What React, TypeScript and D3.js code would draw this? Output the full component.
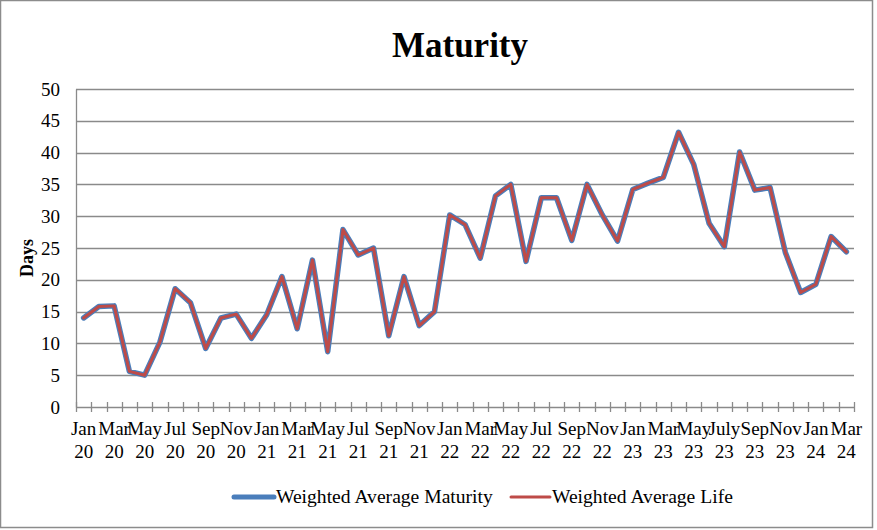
import React, { useEffect, useRef } from "react";
import * as d3 from "d3";

// monthly observations, Jan 2020 .. Mar 2024
const months = [
  "Jan 20", "Feb 20", "Mar 20", "Apr 20", "May 20", "Jun 20", "Jul 20", "Aug 20", "Sep 20", "Oct 20", "Nov 20", "Dec 20",
  "Jan 21", "Feb 21", "Mar 21", "Apr 21", "May 21", "Jun 21", "Jul 21", "Aug 21", "Sep 21", "Oct 21", "Nov 21", "Dec 21",
  "Jan 22", "Feb 22", "Mar 22", "Apr 22", "May 22", "Jun 22", "Jul 22", "Aug 22", "Sep 22", "Oct 22", "Nov 22", "Dec 22",
  "Jan 23", "Feb 23", "Mar 23", "Apr 23", "May 23", "Jun 23", "July 23", "Aug 23", "Sep 23", "Oct 23", "Nov 23", "Dec 23",
  "Jan 24", "Feb 24", "Mar 24",
];

const wam = [
  14.0, 15.8, 15.9, 5.6, 5.0, 10.2, 18.6, 16.4, 9.2, 14.0, 14.6, 10.8,
  14.5, 20.5, 12.3, 23.1, 8.7, 27.9, 23.9, 25.0, 11.2, 20.5, 12.8, 15.0,
  30.2, 28.7, 23.4, 33.2, 35.0, 22.9, 32.9, 32.9, 26.2, 35.0, 30.2, 26.1,
  34.2, 35.2, 36.1, 43.2, 38.1, 28.9, 25.2, 40.1, 34.1, 34.5, 24.3, 18.0,
  19.3, 26.8, 24.4,
];

const wal = [
  14.0, 15.8, 15.9, 5.6, 5.0, 10.2, 18.6, 16.4, 9.2, 14.0, 14.6, 10.8,
  14.5, 20.5, 12.3, 23.1, 8.7, 27.9, 23.9, 25.0, 11.2, 20.5, 12.8, 15.0,
  30.2, 28.7, 23.4, 33.2, 35.0, 22.9, 32.9, 32.9, 26.2, 35.0, 30.2, 26.1,
  34.2, 35.2, 36.1, 43.2, 38.1, 28.9, 25.2, 40.1, 34.1, 34.5, 24.3, 18.0,
  19.3, 26.8, 24.4,
];

const yTicks = [0, 5, 10, 15, 20, 25, 30, 35, 40, 45, 50];

const seriesNames = ["Weighted Average Maturity", "Weighted Average Life"];

const FONT = "'Liberation Serif', 'Times New Roman', serif";

const App = () => {
  const svgRef = useRef<SVGSVGElement>(null);

  useEffect(() => {
    const svg = d3.select(svgRef.current);
    svg.selectAll("*").remove();

    const left = 76, right = 854, top = 89, bottom = 407;

    const xScale = d3.scaleBand().domain(months).range([left, right]).padding(0);
    const yScale = d3.scaleLinear().domain([0, 50]).range([bottom, top]);
    const cx = (m) => xScale(m) + xScale.bandwidth() / 2;

    // outer border
    svg
      .append("rect")
      .attr("x", 0.5)
      .attr("y", 0.5)
      .attr("width", 872)
      .attr("height", 527)
      .attr("fill", "white")
      .attr("stroke", "#8c8c8c")
      .attr("stroke-width", 1.5);

    // title
    svg
      .append("text")
      .attr("x", 460)
      .attr("y", 57)
      .attr("text-anchor", "middle")
      .attr("font-family", FONT)
      .attr("font-weight", "bold")
      .attr("font-size", 35)
      .text("Maturity");

    // gridlines
    svg
      .append("g")
      .selectAll("line")
      .data(yTicks)
      .join("line")
      .attr("x1", left)
      .attr("x2", right)
      .attr("y1", (d) => Math.round(yScale(d)) + 0.5)
      .attr("y2", (d) => Math.round(yScale(d)) + 0.5)
      .attr("stroke", "#8a8a8a")
      .attr("stroke-width", 1.3);

    // y axis
    const yAxis = d3
      .axisLeft(yScale)
      .tickValues(yTicks)
      .tickSize(0)
      .tickPadding(16);
    const yG = svg
      .append("g")
      .attr("transform", `translate(${left},0)`)
      .call(yAxis);
    yG.select(".domain").attr("stroke", "#8a8a8a").attr("stroke-width", 1.3);
    yG.selectAll("text")
      .attr("font-family", FONT)
      .attr("font-size", 19)
      .attr("fill", "#000");

    // y title
    svg
      .append("text")
      .attr("transform", "translate(33,258) rotate(-90)")
      .attr("text-anchor", "middle")
      .attr("font-family", FONT)
      .attr("font-weight", "bold")
      .attr("font-size", 18)
      .text("Days");

    // x axis: ticks at category boundaries
    const boundaries = months.map((m) => xScale(m)).concat([right]);
    svg
      .append("g")
      .selectAll("line")
      .data(boundaries)
      .join("line")
      .attr("x1", (d) => Math.round(d) + 0.5)
      .attr("x2", (d) => Math.round(d) + 0.5)
      .attr("y1", bottom - 5)
      .attr("y2", bottom + 5)
      .attr("stroke", "#8a8a8a")
      .attr("stroke-width", 1.3);

    // x labels, every other month
    const labelled = months.filter((m, i) => i % 2 === 0);
    const xl = svg
      .append("g")
      .selectAll("text")
      .data(labelled)
      .join("text")
      .attr("text-anchor", "middle")
      .attr("font-family", FONT)
      .attr("font-size", 19);
    xl.append("tspan")
      .attr("x", (d) => cx(d))
      .attr("y", 435)
      .text((d) => d.split(" ")[0]);
    xl.append("tspan")
      .attr("x", (d) => cx(d))
      .attr("y", 458)
      .text((d) => d.split(" ")[1]);

    // lines
    const line = d3
      .line()
      .x((d, i) => cx(months[i]))
      .y((d) => yScale(d));

    svg
      .append("path")
      .datum(wam)
      .attr("d", line)
      .attr("fill", "none")
      .attr("stroke", "#4a7ebb")
      .attr("stroke-width", 5.5)
      .attr("stroke-linejoin", "round")
      .attr("stroke-linecap", "round");

    svg
      .append("path")
      .datum(wal)
      .attr("d", line)
      .attr("fill", "none")
      .attr("stroke", "#be4b48")
      .attr("stroke-width", 3)
      .attr("stroke-linejoin", "round")
      .attr("stroke-linecap", "round");

    // legend
    const legendItems = [
      { name: seriesNames[0], color: "#4a7ebb", w: 5, x0: 234, x1: 274 },
      { name: seriesNames[1], color: "#be4b48", w: 3, x0: 511, x1: 550 },
    ];
    const lg = svg.append("g").selectAll("g").data(legendItems).join("g");
    lg.append("line")
      .attr("x1", (d) => d.x0)
      .attr("x2", (d) => d.x1)
      .attr("y1", 497)
      .attr("y2", 497)
      .attr("stroke", (d) => d.color)
      .attr("stroke-width", (d) => d.w)
      .attr("stroke-linecap", "round");
    lg.append("text")
      .attr("x", (d) => d.x1 + 2)
      .attr("y", 503)
      .attr("font-family", FONT)
      .attr("font-size", 19.6)
      .text((d) => d.name);
  }, []);

  return (
    <svg
      ref={svgRef}
      width={877}
      height={530}
      style={{ position: "absolute", left: 0, top: 0 }}
    />
  );
};

export default App;
